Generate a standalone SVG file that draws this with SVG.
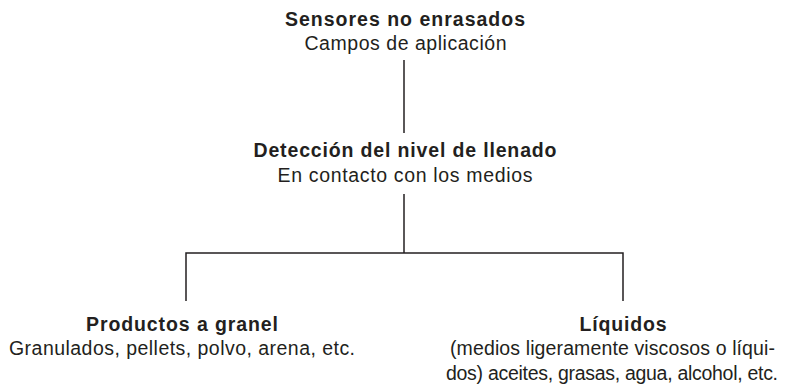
<svg xmlns="http://www.w3.org/2000/svg" width="807" height="385" viewBox="0 0 807 385">
<style>
text{font-family:"Liberation Sans",Arial,sans-serif;fill:#231f20;text-anchor:middle;font-size:19.5px}
.b{font-weight:bold}
.c{stroke:#231f20;stroke-width:1.5;fill:none}
</style>
<rect width="807" height="385" fill="#fff"/>
<g id="connectors">
<path class="c" d="M404 60V133"/>
<path class="c" d="M404 194V253"/>
<path class="c" d="M186 301V253H623V301"/>
</g>
<g id="root">
<text class="b" x="405" y="26" textLength="240" lengthAdjust="spacing">Sensores no enrasados</text>
<text x="405.5" y="50" textLength="202" lengthAdjust="spacing">Campos de aplicación</text>
</g>
<g id="deteccion">
<text class="b" x="405" y="157" textLength="303" lengthAdjust="spacing">Detección del nivel de llenado</text>
<text x="405" y="182" textLength="255" lengthAdjust="spacing">En contacto con los medios</text>
</g>
<g id="granel">
<text class="b" x="182" y="331" textLength="192" lengthAdjust="spacing">Productos a granel</text>
<text x="182" y="355" textLength="346" lengthAdjust="spacing">Granulados, pellets, polvo, arena, etc.</text>
</g>
<g id="liquidos">
<text class="b" x="623" y="331" textLength="87" lengthAdjust="spacing">Líquidos</text>
<text x="612.5" y="355" textLength="325" lengthAdjust="spacing">(medios ligeramente viscosos o líqui-</text>
<text x="612" y="380" textLength="332" lengthAdjust="spacing">dos) aceites, grasas, agua, alcohol, etc.</text>
</g>
</svg>
